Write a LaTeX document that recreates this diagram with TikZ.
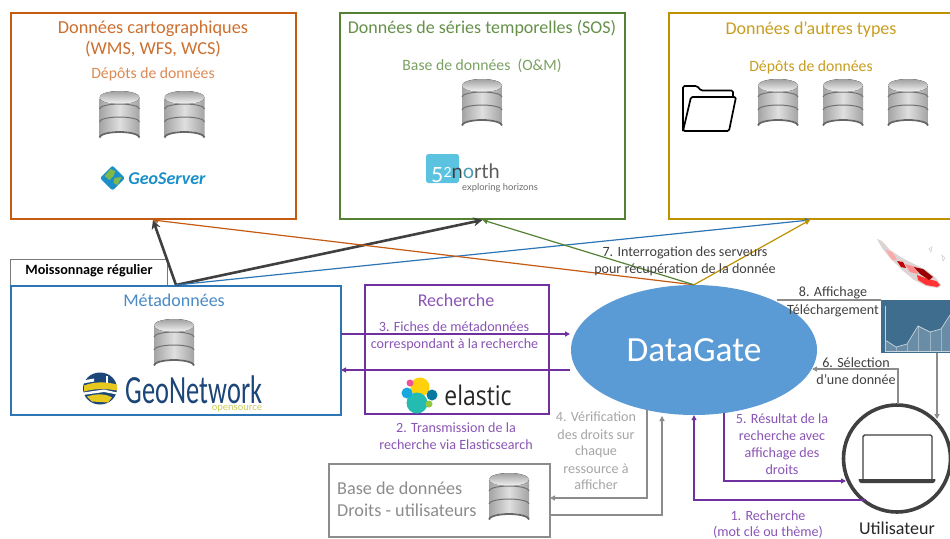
\documentclass[tikz,border=0pt]{standalone}
\usepackage{fontspec}
\setmainfont{Carlito}
\newfontfamily\opensans{Open Sans}
\newfontfamily\lato{Lato}
\usetikzlibrary{shapes.geometric,arrows.meta,calc}
\definecolor{corange}{HTML}{C55A11}
\definecolor{torange}{HTML}{CC7030}
\definecolor{torange2}{HTML}{DB8A54}
\definecolor{cgreen}{HTML}{548235}
\definecolor{tgreen}{HTML}{66914A}
\definecolor{tgreen2}{HTML}{7BA163}
\definecolor{cgold}{HTML}{BF9000}
\definecolor{tgold}{HTML}{C89E20}
\definecolor{cblue}{HTML}{2E75B6}
\definecolor{tblue}{HTML}{4A8AC6}
\definecolor{cpurple}{HTML}{7030A0}
\definecolor{tpurple}{HTML}{8A55B5}
\definecolor{cgrey}{HTML}{8C8C8C}
\definecolor{tgrey}{HTML}{A6A6A6}
\definecolor{cdark}{HTML}{404040}
\definecolor{cell}{HTML}{5B9BD5}
\definecolor{HTMLchart}{HTML}{3F6D8E}
\definecolor{HTMLgs}{HTML}{1A8FC9}
\definecolor{HTMLgg}{HTML}{7DB84A}
\definecolor{HTMLfn}{HTML}{5BC2E0}
\definecolor{HTMLgn}{HTML}{1C4678}
\definecolor{HTMLgy}{HTML}{E6C81E}
\definecolor{HTMLgo}{HTML}{C9CF5A}
\definecolor{HTMLey}{HTML}{FED10A}
\definecolor{HTMLet}{HTML}{24BBB1}
\definecolor{HTMLep}{HTML}{EF5098}
\definecolor{HTMLel}{HTML}{17A8E0}
\definecolor{HTMLed}{HTML}{0779A1}
\definecolor{HTMLeg}{HTML}{93C83E}
\tikzset{
  frame/.style={draw=#1,line width=2pt,fill=none,inner sep=0pt},
  lab/.style={inner sep=0pt,align=center,text height=.68em,text depth=.2em,yshift=-.2*#1 pt,font=\fontsize{#1}{#1}\selectfont},
  thin arrow/.style={draw=#1,line width=1.2pt,-{Triangle[length=5pt,width=5pt]}},
  thick arrow/.style={draw=cdark,line width=2.6pt,-{Stealth[length=9pt,width=9pt]}},
  flow/.style={draw=#1,line width=1.5pt,-{Triangle[length=5pt,width=5pt]}},
  dbicon/.pic={
    \path[left color=gray!72,right color=gray!72,middle color=gray!25]
      (-20,-19) -- (-20,20) arc[x radius=20,y radius=6,start angle=180,end angle=360] -- (20,-19) -- cycle;
    \draw[cdark!80,line width=1.8pt] (-20,20.5) arc[x radius=20,y radius=5.5,start angle=180,end angle=360];
    \fill[top color=gray!75,bottom color=gray!8] (0,-19.5) ellipse[x radius=20,y radius=6.5];
    \draw[cdark!75,line width=1pt] (-20,-8) arc[x radius=20,y radius=5,start angle=180,end angle=360];
    \draw[cdark!75,line width=1pt] (-20,5) arc[x radius=20,y radius=5,start angle=180,end angle=360];
  }
}
\begin{document}
\begin{tikzpicture}[x=1pt,y=-1pt]
\useasboundingbox (0,0) rectangle (950,538);
\clip (0,0) rectangle (950,538);
\fill[white] (0,0) rectangle (950,538);
% boxes
\node[frame=corange,minimum width=285pt,minimum height=206pt] (carto) at (153,116) {};
\node[frame=cgreen,minimum width=285pt,minimum height=206pt] (sos) at (482.5,116) {};
\node[frame=cgold,minimum width=282pt,minimum height=206pt] (autres) at (810,116) {};
\node[draw=cdark!70,line width=1pt,minimum width=157pt,minimum height=26pt,inner sep=0pt] (moisson) at (88.5,272) {};
\node[inner sep=0pt,text height=.68em,text depth=.2em,font=\fontsize{14.2}{14.2}\selectfont\bfseries] (moissont) at (89,272) {Moissonnage régulier};
\node[frame=cblue,minimum width=330pt,minimum height=129pt] (meta) at (176,350.5) {};
\node[frame=cpurple,minimum width=184pt,minimum height=129pt] (rech) at (457,349.5) {};
\node[draw=cgrey,line width=1.6pt,minimum width=221pt,minimum height=73pt,inner sep=0pt] (droits) at (439.5,500.5) {};
\node[ellipse,fill=cell,minimum width=246pt,minimum height=130pt,inner sep=0pt,text=white,font=\fontsize{35.4}{35.4}\selectfont] (dg) at (694,350) {DataGate};
\node[circle,draw=cdark,line width=3.6pt,fill=white,minimum size=107pt,inner sep=0pt] (user) at (897,458.5) {};
% chart
\node[rectangle,fill=HTMLchart,minimum width=70pt,minimum height=53pt,inner sep=0pt] (chart) at (915.5,326.5) {};
\fill[white,opacity=.22] (885,351) -- (885,340) -- (896,347) -- (907,344) -- (918,326) -- (930,332) -- (941,329) -- (950,315) -- (950,351) -- cycle;
\draw[white!70!HTMLchart,line width=.7pt] (885,306) -- (885,351) -- (950,351);
\draw[white!70!HTMLchart,line width=.7pt] (885,340) -- (896,347) -- (907,344) -- (918,326) -- (930,332) -- (941,329) -- (950,315);
\foreach \px/\py in {896/347,907/344,918/326,930/332,941/329}{\draw[white,opacity=.35,line width=.5pt] (\px,\py) -- (\px,351);}
% map
\fill[red!14!gray!30] (877,239) -- (882,241) -- (890,250) -- (902,258) -- (916,265) -- (926,270) -- (936,278) -- (941,285) -- (938,288) -- (926,286) -- (914,280) -- (902,270) -- (890,258) -- (882,248) -- cycle;
\fill[red!35] (886,250) -- (892,252) -- (897,260) -- (892,260) -- cycle;
\fill[red!75!black] (897,261) -- (903,262) -- (906,268) -- (901,267) -- cycle;
\fill[red!45] (905,264) -- (916,267) -- (918,274) -- (910,272) -- cycle;
\fill[red!80] (917,275) -- (925,278) -- (936,281) -- (940,285) -- (937,287) -- (926,285) -- (918,280) -- cycle;
\fill[red!60!black] (914,267) -- (923,269) -- (933,277) -- (929,280) -- (920,274) -- cycle;
\draw[gray!35,line width=.6pt] (929,249) -- (932,247) -- (931,252) -- cycle (942,255) -- (945,258) -- (943,261) -- cycle;
% connectors
\draw[thick arrow] (meta.north) -- (carto.south);
\draw[thick arrow] (meta.north) -- (sos.south);
\draw[thin arrow=cblue] (meta.north) -- (autres.south);
\draw[thin arrow=corange] (dg.north) -- (carto.south);
\draw[thin arrow=cgreen] (dg.north) -- (sos.south);
\draw[thin arrow=cgold] (dg.north) -- (autres.south);
\coordinate (r3a) at (341,334);
\coordinate (r3b) at (570,334);
\coordinate (r2a) at (570,370);
\coordinate (r2b) at (341,370);
\draw[flow=cpurple] (r3a) -- (r3b);
\draw[flow=cpurple] (r2a) -- (r2b);
\coordinate (d4a) at (647,409);
\coordinate (d4b) at (550,498);
\coordinate (d4c) at (550,515);
\coordinate (d4d) at (662,416);
\draw[flow=cgrey] (d4a) |- (d4b);
\draw[flow=cgrey] (d4c) -| (d4d);
\coordinate (r5a) at (724,413);
\coordinate (r5b) at (846,481);
\draw[flow=cpurple] (r5a) |- (r5b);
\coordinate (r1a) at (866,500);
\draw[flow=cpurple] (r1a) -| (dg.south);
\coordinate (s6a) at (898,404);
\coordinate (s6b) at (812,369);
\draw[flow=cgrey] (s6a) |- (s6b);
\coordinate (a8a) at (777,300);
\coordinate (a8b) at (881,300);
\draw[cgrey,line width=1.5pt] (a8a) -- (a8b);
\coordinate (a8c) at (937,353);
\coordinate (a8d) at (937,419);
\draw[flow=cgrey] (a8c) -- (a8d);
% databases
\pic at (119.5,117) {dbicon};
\pic at (184.5,117) {dbicon};
\pic at (482,105) {dbicon};
\pic at (778,105) {dbicon};
\pic at (843,105) {dbicon};
\pic at (908,105) {dbicon};
\pic at (174,345) {dbicon};
\pic at (509,499) {dbicon};
% folder
\draw[black,line width=1.7pt,line join=round,rounded corners=1.5pt] (683,131) -- (683,86) -- (697,86) -- (701,90.5) -- (733,90.5) -- (733,97);
\draw[black,line width=1.7pt,line join=round,rounded corners=1.5pt] (683,131) -- (691,97) -- (736,97) -- (729,131) -- cycle;
% texts: top boxes
\node[lab=18.3,text=torange] (t1) at (153,27) {Données cartographiques};
\node[lab=18.3,text=torange] (t2) at (153,48) {(WMS, WFS, WCS)};
\node[lab=15.7,text=torange2] (t3) at (153,73) {Dépôts de données};
\node[lab=18,text=tgreen] (t4) at (482,27) {Données de séries temporelles (SOS)};
\node[lab=15.7,text=tgreen2] (t5) at (482,65) {Base de données~ (O\&M)};
\node[lab=18,text=tgold] (t6) at (811,28) {Données d’autres types};
\node[lab=15.7,text=tgold] (t7) at (811,66) {Dépôts de données};
% GeoServer logo
\begin{scope}[shift={(112.5,178)}]
\fill[HTMLgs,rounded corners=2pt] (-12.5,0) -- (0,-12.5) -- (12.5,0) -- (0,12.5) -- cycle;
\fill[HTMLgg] (-8,-2) -- (-2,-9) -- (3,-7) -- (1,-2) -- (-3,2) -- cycle;
\fill[HTMLgg] (2,0) -- (9,-1) -- (5,7) -- (1,5) -- cycle;
\end{scope}
\node[lab=18,text=HTMLgs,font=\fontsize{18}{18}\selectfont\bfseries\itshape] (gs) at (167,178) {GeoServer};
% 52north logo
\fill[HTMLfn,rounded corners=2.5pt] (426,154) rectangle (459,183);
\node[inner sep=0pt,text=white,anchor=base west,font=\fontsize{21}{21}\selectfont\lato] (fn1) at (431,182) {5};
\node[inner sep=0pt,text=white,anchor=base west,font=\fontsize{14}{14}\selectfont\lato] (fn1b) at (443.5,177) {2};
\node[inner sep=0pt,anchor=base west,font=\fontsize{20}{20}\selectfont\lato] (fn2) at (451.5,178) {\textcolor{cdark}{n}\textcolor{HTMLfn!80!black}{o}\textcolor{cdark!85}{rth}};
\node[inner sep=0pt,text=gray!85!black,anchor=west,font=\fontsize{9.4}{9.4}\selectfont\lato] (fn3) at (462,188) {exploring horizons};
% Metadonnees
\node[lab=18,text=tblue] (t8) at (174,300) {Métadonnées};
\begin{scope}[shift={(100,388.5)}]
\fill[HTMLgn] (0,0) ellipse[x radius=17,y radius=16];
\fill[HTMLgy] (-16,-3) .. controls (-5,-7) and (5,-7) .. (17,-4) -- (17,2) .. controls (5,0) and (-5,0) .. (-16,3) -- cycle;
\fill[HTMLgy] (-13,8) .. controls (-4,5) and (6,5) .. (12,9) -- (8,14) -- (-8,13) -- cycle;
\fill[white] (-17,-8) -- (-6,-10) -- (-6,-7) -- (-17,-5) -- cycle;
\fill[white] (6,-13) -- (8,-13) -- (8,-6) -- (6,-6) -- cycle;
\fill[white] (-17,4) -- (4,1) -- (17,4) -- (17,6) -- (4,3.5) -- (-17,6.5) -- cycle;
\end{scope}
\node[inner sep=0pt,text=HTMLgn,xscale=.66,font=\fontsize{40}{40}\selectfont] (gn) at (194,390) {GeoNetwork};
\node[inner sep=0pt,text=HTMLgo,font=\fontsize{10.5}{10.5}\selectfont] (gn2) at (237,408.5) {opensource};
% Recherche
\node[lab=18,text=tpurple] (t9) at (456,300) {Recherche};
\node[lab=14.1,text=tpurple] (t10) at (454,326) {3. Fiches de métadonnées};
\node[lab=14.1,text=tpurple] (t11) at (454.5,343) {correspondant à la recherche};
\fill[HTMLey] (420,387) circle[radius=9.5];
\fill[HTMLet] (417,403) circle[radius=10.5];
\fill[HTMLep] (410,383) circle[radius=3.5];
\fill[HTMLel] (407,393) circle[radius=5.5];
\fill[HTMLed] (432,395) circle[radius=5.5];
\fill[HTMLeg] (429,404) circle[radius=3.5];
\node[inner sep=0pt,text=black!85,font=\fontsize{27}{27}\selectfont\opensans,xscale=.85] (el) at (478,395) {elastic};
\node[lab=14.1,text=tpurple] (t12) at (456,427) {2. Transmission de la};
\node[lab=14.1,text=tpurple] (t13) at (456,444) {recherche via Elasticsearch};
% Droits
\node[lab=18.2,text=cgrey,anchor=west] (t14) at (337,488) {Base de données};
\node[lab=18.2,text=cgrey,anchor=west] (t15) at (337,510) {Droits - utilisateurs};
% middle labels
\node[lab=14.1,text=tgrey] (t16) at (596,416) {4. Vérification};
\node[lab=14.1,text=tgrey] (t17) at (596,434) {des droits sur};
\node[lab=14.1,text=tgrey] (t18) at (596,450) {chaque};
\node[lab=14.1,text=tgrey] (t19) at (596,468) {ressource à};
\node[lab=14.1,text=tgrey] (t20) at (596,484) {afficher};
\node[lab=14.1,text=tpurple] (t21) at (782,418) {5. Résultat de la};
\node[lab=14.1,text=tpurple] (t22) at (782,435) {recherche avec};
\node[lab=14.1,text=tpurple] (t23) at (782,452) {affichage des};
\node[lab=14.1,text=tpurple] (t24) at (782,469) {droits};
\node[lab=14.1,text=tpurple] (t25) at (768,515) {1. Recherche};
\node[lab=14.1,text=tpurple] (t26) at (768,531) {(mot clé ou thème)};
\node[lab=14.1,text=cdark] (t27) at (856,362) {6. Sélection};
\node[lab=14.1,text=cdark] (t28) at (856,379) {d’une donnée};
\node[lab=14.1,text=cdark] (t29) at (833,291) {8. Affichage};
\node[lab=14.1,text=cdark] (t30) at (833,309) {Téléchargement};
\node[lab=14.1,text=cdark] (t31) at (685,251) {7. Interrogation des serveurs};
\node[lab=14.1,text=cdark] (t32) at (685,268) {pour récupération de la donnée};
\node[lab=18,text=black!85] (t33) at (897,528) {Utilisateur};
% laptop
\draw[cdark,line width=1.4pt,rounded corners=1.5pt,fill=white] (863,479) -- (863,435) -- (932,435) -- (932,479);
\fill[cdark,rounded corners=1pt] (858,479) -- (936,479) -- (934,483) -- (860,483) -- cycle;
\end{tikzpicture}
\end{document}
